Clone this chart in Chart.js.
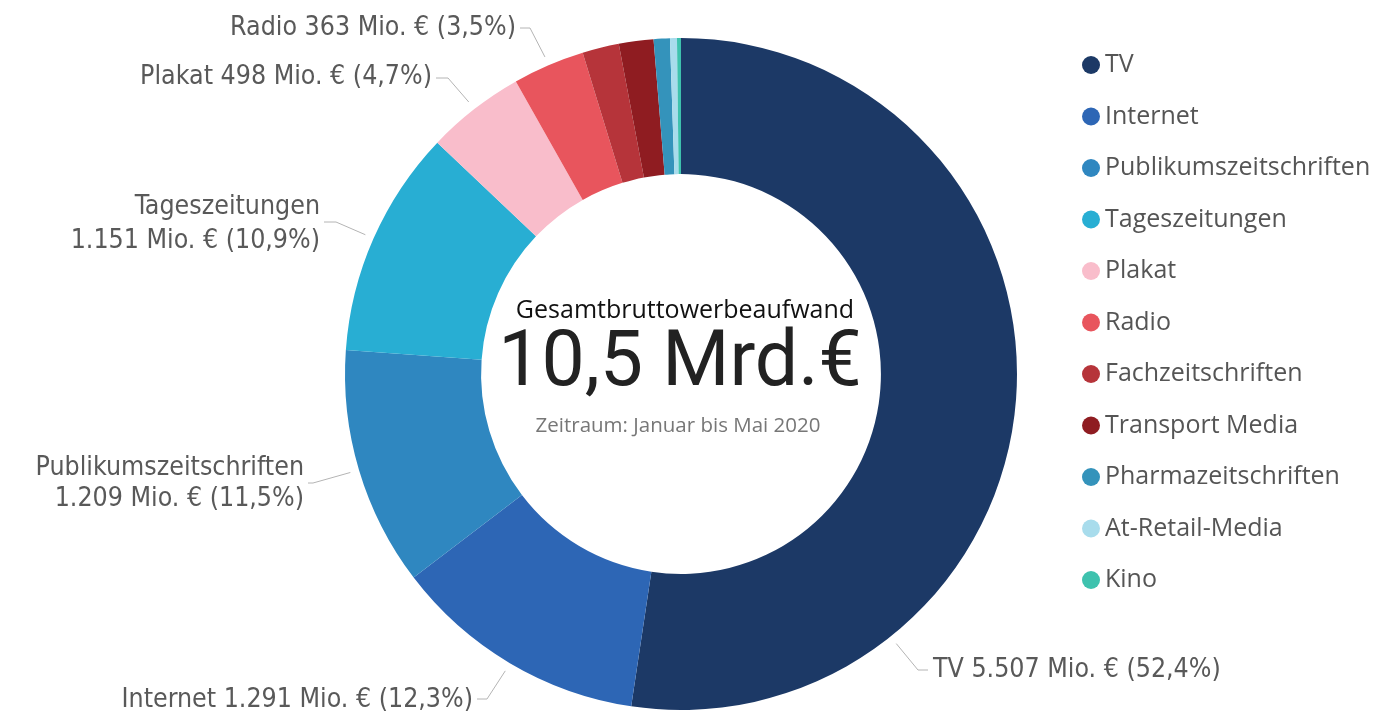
<!DOCTYPE html>
<html><head><meta charset="utf-8">
<script src="https://cdn.jsdelivr.net/npm/chart.js@4/dist/chart.umd.min.js"></script>
<style>html,body{margin:0;padding:0;background:#fff;overflow:hidden}</style>
</head><body>
<canvas id="c" width="1389" height="715"></canvas>
<script>
// ---- data ----
const categories = ['TV','Internet','Publikumszeitschriften','Tageszeitungen','Plakat','Radio','Fachzeitschriften','Transport Media','Pharmazeitschriften','At-Retail-Media','Kino'];
const valuesMio = [5507,1291,1209,1151,498,363,185,175,82,35,20];
const sharePct = [52.4,12.3,11.5,10.9,4.7,3.5,null,null,null,null,null];
const colors = ['#1c3966','#2d66b5','#2f87c0','#28aed3','#f9bdcb','#e8555d','#b6343a','#8f1c21','#3493bb','#a8dcec','#3ec2ae'];
const centerTitle = 'Gesamtbruttowerbeaufwand';
const centerValue = '10,5 Mrd.€';
const centerNote = 'Zeitraum: Januar bis Mai 2020';

// ---- label layout (positions only) ----
const labelLayout = {
  0:{side:'right', edge:933, lineYs:[670], leaderY:670, elbow:918, anchorFrac:0.75, split:false},
  1:{side:'left', edge:473, lineYs:[700], leaderY:699, elbow:487, split:false},
  2:{side:'left', edge:304, lineYs:[468,499], leaderY:483, elbow:313, split:true},
  3:{side:'left', edge:320, lineYs:[207,241], leaderY:222, elbow:336, split:true},
  4:{side:'left', edge:432, lineYs:[77], leaderY:78, elbow:448, split:false},
  5:{side:'left', edge:516, lineYs:[28], leaderY:28, elbow:530, split:false}
};

function fmtThousands(v){
  const s = String(Math.round(v));
  return s.replace(/\B(?=(\d{3})+(?!\d))/g,'.');
}
function fmtPct(p){ return p.toFixed(1).replace('.',',') + '%'; }

const LABEL_FONT = '26.5px "DejaVu Sans Condensed", "DejaVu Sans", sans-serif';
const TEXT_COLOR = '#595959';

const overlay = {
  id:'overlay',
  afterDraw(chart){
    const ctx = chart.ctx;
    const meta = chart.getDatasetMeta(0);
    const arc0 = meta.data[0];
    const cx = arc0.x, cy = arc0.y;
    ctx.save();
    // center texts
    ctx.textAlign = 'center';
    ctx.textBaseline = 'middle';
    ctx.fillStyle = '#111';
    ctx.font = '25px "Open Sans", sans-serif';
    ctx.fillText(centerTitle, cx + 4, cy - 63);
    ctx.fillStyle = '#222';
    ctx.font = '77px Roboto, sans-serif';
    ctx.fillText(centerValue, cx - 1, cy - 8);
    ctx.fillStyle = '#777';
    ctx.font = '20.5px "Open Sans", sans-serif';
    ctx.fillText(centerNote, cx - 3, cy + 52);

    // outside labels with leader lines
    ctx.font = LABEL_FONT;
    Object.keys(labelLayout).forEach(k => {
      const i = +k;
      const L = labelLayout[i];
      const a = meta.data[i];
      const frac = L.anchorFrac !== undefined ? L.anchorFrac : 0.5;
      const ang = a.startAngle + (a.endAngle - a.startAngle) * frac;
      const r = a.outerRadius + 9;
      const ax = cx + Math.cos(ang) * r, ay = cy + Math.sin(ang) * r;
      const endX = L.side === 'left' ? L.edge + 4 : L.edge - 5;
      ctx.strokeStyle = '#b4b4b4';
      ctx.lineWidth = 1;
      ctx.beginPath();
      ctx.moveTo(ax, ay);
      ctx.lineTo(L.elbow, L.leaderY);
      ctx.lineTo(endX, L.leaderY);
      ctx.stroke();
      const valTxt = fmtThousands(valuesMio[i]) + ' Mio. € (' + fmtPct(sharePct[i]) + ')';
      const lines = L.split ? [categories[i], valTxt] : [categories[i] + ' ' + valTxt];
      ctx.fillStyle = TEXT_COLOR;
      ctx.textAlign = L.side === 'left' ? 'right' : 'left';
      ctx.textBaseline = 'middle';
      lines.forEach((t, j) => ctx.fillText(t, L.edge, L.lineYs[j]));
    });

    // legend
    ctx.textAlign = 'left';
    ctx.textBaseline = 'middle';
    ctx.font = '25px "Open Sans", sans-serif';
    categories.forEach((c, i) => {
      const y = 65 + i * 51.5;
      ctx.fillStyle = colors[i];
      ctx.beginPath();
      ctx.arc(1091, y, 9, 0, Math.PI * 2);
      ctx.fill();
      ctx.fillStyle = '#555';
      ctx.fillText(c, 1105, y);
    });
    ctx.restore();
  }
};

new Chart(document.getElementById('c'), {
  type:'doughnut',
  data:{
    labels: categories,
    datasets:[{ data: valuesMio, backgroundColor: colors, borderWidth: 0, hoverOffset: 0 }]
  },
  options:{
    responsive:false,
    animation:false,
    cutout:'59.5%',
    layout:{ padding:{ top:38, bottom:5, left:300, right:327 } },
    plugins:{ legend:{ display:false }, tooltip:{ enabled:false } }
  },
  plugins:[overlay]
});
</script>
</body></html>
